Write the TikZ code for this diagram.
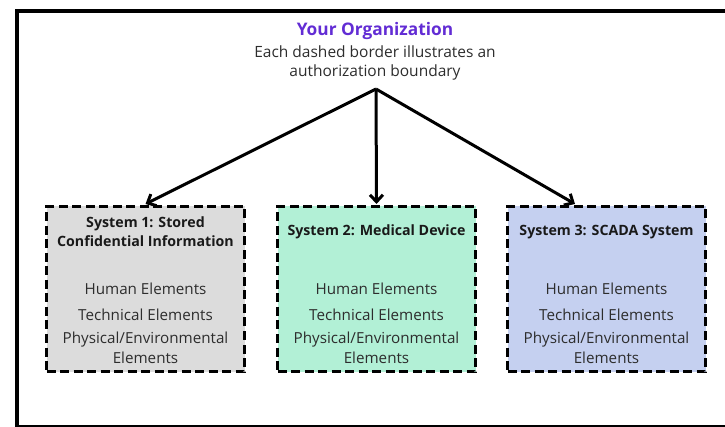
\documentclass[tikz,border=0pt]{standalone}
\usepackage{fontspec}
\setmainfont{Open Sans}
\usetikzlibrary{arrows.meta}
\definecolor{orgpurple}{RGB}{98,44,212}
\definecolor{txtgray}{RGB}{45,45,45}
\definecolor{fillone}{RGB}{220,220,220}
\definecolor{filltwo}{RGB}{178,240,214}
\definecolor{fillthree}{RGB}{197,208,240}
\tikzset{
  sysbox/.style={draw=black, line width=3pt, dash pattern=on 9pt off 4.5pt,
    minimum width=198pt, minimum height=165pt, inner sep=0pt},
  systitle/.style={font=\fontsize{14.2}{19}\selectfont\bfseries, text=black!90, align=center, inner sep=0pt},
  elem/.style={font=\fontsize{15.2}{20}\selectfont, text=txtgray, align=center, inner sep=0pt},
  link/.style={line width=3pt, -{Straight Barb[length=7pt,width=13pt,line width=3pt]}}
}
\begin{document}
\begin{tikzpicture}[x=1pt,y=-1pt]
\useasboundingbox (0,0) rectangle (725,427);
\draw[line width=4pt] (17,11) rectangle (731,427);
% header
\node[font=\fontsize{17.3}{20}\selectfont\bfseries, text=orgpurple, inner sep=0pt] (org) at (375,31) {Your Organization};
\node[font=\fontsize{15.5}{19}\selectfont, text=txtgray, align=center, inner sep=0pt] (desc) at (375,62.5) {Each dashed border illustrates an\\authorization boundary};
\coordinate (apex) at (376,89);
% boxes
\node[sysbox, fill=fillone] (b1) at (145.5,289) {};
\node[sysbox, fill=filltwo] (b2) at (376.5,289) {};
\node[sysbox, fill=fillthree] (b3) at (606.5,289) {};
% titles
\node[systitle] (t1) at (145.5,231.5) {System 1: Stored\\Confidential Information};
\node[systitle] (t2) at (376.5,232) {System 2: Medical Device};
\node[systitle] (t3) at (606.5,232) {System 3: SCADA System};
% elements
\foreach \b/\x in {1/145.5,2/376.5,3/606.5}{
  \node[elem] (h\b) at (\x,289) {Human Elements};
  \node[elem] (te\b) at (\x,315) {Technical Elements};
  \node[elem] (p\b) at (\x,348) {Physical/Environmental\\Elements};
}
% arrows
\coordinate (e1) at (145.5,204);
\coordinate (e2) at (376.5,204);
\coordinate (e3) at (575,204);
\draw[link] (apex) -- (e1);
\draw[link] (apex) -- (e2);
\draw[link] (apex) -- (e3);
\end{tikzpicture}
\end{document}
